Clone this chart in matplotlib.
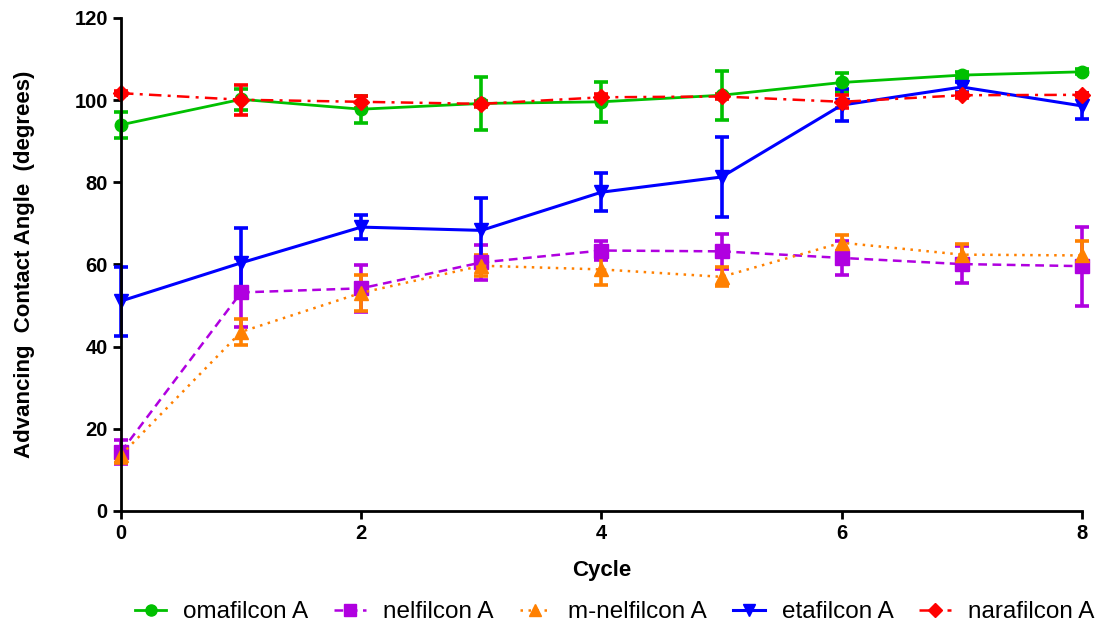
import matplotlib
matplotlib.use("Agg")
import matplotlib.pyplot as plt
from matplotlib.lines import Line2D

plt.rcParams['font.family'] = ['Liberation Sans', 'DejaVu Sans']

cycles = [0, 1, 2, 3, 4, 5, 6, 7, 8]

# mean advancing contact angle (degrees) and error per cycle
omafilcon = [94.0, 100.2, 97.8, 99.2, 99.6, 101.2, 104.3, 106.1, 106.9]
omafilcon_err = [3.2, 2.6, 3.3, 6.5, 4.8, 6.0, 2.3, 0.8, 0.6]

nelfilcon = [14.4, 53.2, 54.2, 60.5, 63.4, 63.2, 61.6, 60.1, 59.6]
nelfilcon_err = [3.0, 8.3, 5.7, 4.3, 2.3, 4.2, 4.2, 4.5, 9.6]

m_nelfilcon = [13.6, 43.6, 53.1, 59.7, 58.8, 57.0, 65.3, 62.4, 62.2]
m_nelfilcon_err = [2.0, 3.1, 4.3, 2.5, 3.7, 2.3, 2.0, 2.5, 3.4]

etafilcon = [51.1, 60.4, 69.1, 68.3, 77.6, 81.3, 98.8, 103.2, 98.6]
etafilcon_err = [8.4, 8.4, 2.9, 7.8, 4.6, 9.8, 3.8, 1.2, 3.1]

narafilcon = [101.7, 100.1, 99.6, 99.1, 100.7, 100.9, 99.6, 101.2, 101.3]
narafilcon_err = [0.5, 3.7, 1.5, 0.8, 0.8, 0.6, 1.6, 0.6, 0.5]

labels = ['omafilcon A', 'nelfilcon A', 'm-nelfilcon A', 'etafilcon A', 'narafilcon A']

fig = plt.figure(figsize=(11.08, 6.29), dpi=100)
ax = fig.add_axes([0.1092, 0.1876, 0.8673, 0.7838])

series = [
    (omafilcon, omafilcon_err, '#00C000', 'o', '-', 9, 2.0),
    (nelfilcon, nelfilcon_err, '#B000E0', 's', (0, (3.5, 2.2)), 9.5, 1.8),
    (m_nelfilcon, m_nelfilcon_err, '#FF8000', '^', (0, (1.0, 2.2)), 9.5, 1.8),
    (etafilcon, etafilcon_err, '#0000FF', 'v', '-', 9.5, 2.2),
    (narafilcon, narafilcon_err, '#FF0000', 'D', (0, (5, 2.5, 1.2, 2.5)), 8.5, 1.8),
]

handles = []
for (vals, err, col, mk, ls, ms, lw), lab in zip(series, labels):
    line, caps, bars = ax.errorbar(cycles, vals, yerr=err, color=col, marker=mk,
                                   markersize=ms, linestyle=ls, linewidth=lw,
                                   elinewidth=2.6, capsize=5, capthick=2.6,
                                   clip_on=False)
    for c in caps:
        c.set_clip_on(False)
    for b in bars:
        b.set_clip_on(False)
    handles.append(Line2D([], [], color=col, marker=mk, markersize=ms - 1,
                          linestyle=ls, linewidth=lw))

ax.set_xlim(0, 8)
ax.set_ylim(0, 120)
ax.set_xticks([0, 2, 4, 6, 8])
ax.set_yticks([0, 20, 40, 60, 80, 100, 120])

ax.spines['top'].set_visible(False)
ax.spines['right'].set_visible(False)
ax.spines['left'].set_linewidth(2)
ax.spines['bottom'].set_linewidth(2)
ax.tick_params(width=2, length=6, labelsize=14.5, direction='out')
for t in ax.get_xticklabels() + ax.get_yticklabels():
    t.set_fontweight('bold')

ax.set_xlabel('Cycle', fontsize=16, fontweight='bold', labelpad=12)
ax.set_ylabel('Advancing  Contact Angle  (degrees)', fontsize=16,
              fontweight='bold', labelpad=28)

fig.legend(handles, labels, loc='center', bbox_to_anchor=(0.5546, 0.027),
           ncol=5, frameon=False, fontsize=17.5, handlelength=1.3,
           columnspacing=1.07, handletextpad=0.7)

fig.savefig('out.png', dpi=100)
